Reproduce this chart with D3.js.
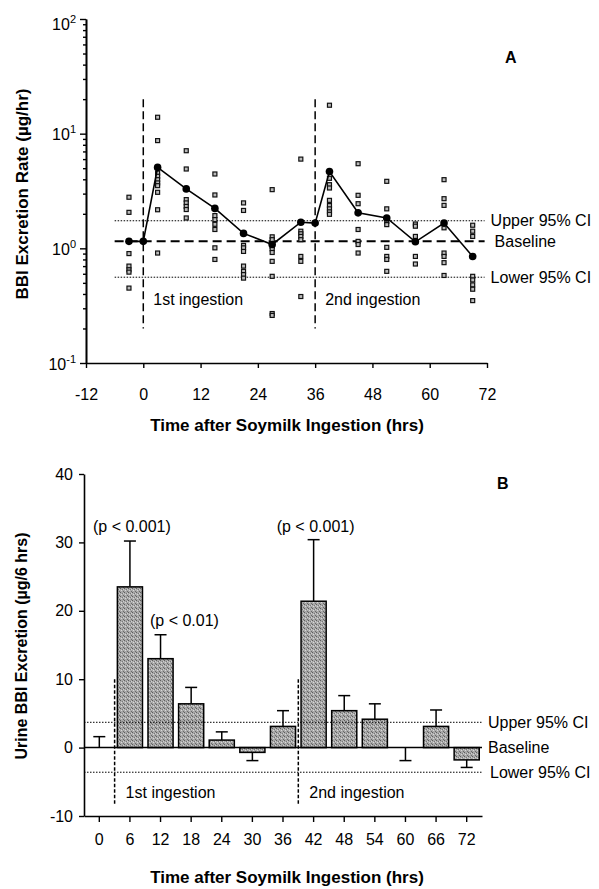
<!DOCTYPE html>
<html>
<head>
<meta charset="utf-8">
<script src="https://cdn.jsdelivr.net/npm/d3@7"></script>
<style>
  body { margin: 0; background: #fff; }
  svg { display: block; font-family: "Liberation Sans", Arial, sans-serif; }
</style>
</head>
<body>
<svg id="chart" width="599" height="889"></svg>
<script>
// ---- panel A: excretion rate, log scale ----
const meanTimes  = [-3, 0, 3, 9, 15, 21, 27, 33, 36, 39, 45, 51, 57, 63, 69];
const meanValues = [1.15, 1.15, 5.08, 3.3, 2.23, 1.35, 1.08, 1.69, 1.66, 4.67, 2.04, 1.84, 1.14, 1.66, 0.85];

const scatterTimes = [-3, 3, 9, 15, 21, 27, 33, 39, 45, 51, 57, 63, 69];
const scatterValues = [
  [2.79, 2.06, 1.15, 0.90, 0.70, 0.65, 0.62, 0.45],
  [13.9, 8.7, 4.54, 4.25, 3.97, 3.72, 3.52, 3.08, 2.17, 0.91],
  [7.1, 4.92, 2.66, 2.49, 2.32, 2.18, 1.84],
  [4.45, 2.92, 1.93, 1.78, 1.62, 1.46, 1.01, 0.80],
  [2.49, 2.14, 1.06, 1.01, 0.94, 0.70, 0.63, 0.59, 0.55],
  [3.25, 1.26, 1.19, 1.04, 0.99, 0.92, 0.77, 0.57, 0.27, 0.26],
  [6.0, 1.41, 1.34, 1.27, 1.19, 0.85, 0.77, 0.38],
  [17.7, 4.08, 3.59, 3.36, 2.62, 2.36, 2.21, 2.08, 1.98],
  [5.47, 2.90, 2.45, 1.46, 1.15, 1.08, 0.91],
  [3.84, 2.21, 1.72, 1.61, 1.02, 0.85, 0.80, 0.63],
  [1.63, 1.56, 1.27, 0.85, 0.73],
  [3.97, 2.71, 2.37, 1.51, 0.91, 0.85, 0.75, 0.58],
  [1.59, 1.41, 1.27, 0.57, 0.53, 0.48, 0.44, 0.35]
];

const aXTicks = [-12, 0, 12, 24, 36, 48, 60, 72];
const aYTicks = [0.1, 1, 10, 100];
const aYTickExp = ['-1', '0', '1', '2'];
const aBaseline = 1.15, aUpper = 1.74, aLower = 0.56;
const aIngestTimes = [0, 36];
const ingestLabels = ['1st ingestion', '2nd ingestion'];

// ---- panel B: urine excretion per 6 hrs ----
const bTimes = [0, 6, 12, 18, 24, 30, 36, 42, 48, 54, 60, 66, 72];
const bMeans = [0, 23.5, 13.0, 6.4, 1.1, -0.7, 3.1, 21.4, 5.4, 4.15, 0, 3.1, -1.8];
const bErrEnd = [1.6, 30.2, 16.5, 8.8, 2.3, -1.9, 5.4, 30.4, 7.6, 6.4, -1.9, 5.5, -2.9];
const bYTicks = [-10, 0, 10, 20, 30, 40];
const bBaseline = 0, bUpper = 3.7, bLower = -3.6;
const bIngestTimes = [3, 39];
const pTimes = [6, 12, 42];
const pValues = [31.5, 17.8, 31.5];
const pTexts = ['(p < 0.001)', '(p < 0.01)', '(p < 0.001)'];

const xTitle = 'Time after Soymilk Ingestion (hrs)';

const svg = d3.select('#chart');

function styleAxis(g, fs) {
  g.attr('font-family', null).attr('font-size', fs);
  g.selectAll('.domain').attr('stroke-width', 1.6);
  g.selectAll('.tick line').attr('stroke-width', 1.4);
  g.selectAll('.tick text').attr('fill', '#000');
}

// plain hyphen for negatives, like the original
let fmt = d => String(d);

// ================= Panel A =================
let xA = d3.scaleLinear().domain([-12, 72]).range([86, 487]);
let yA = d3.scaleLog().domain([0.1, 100]).range([363, 19]);

let gA = svg.append('g');

let minor = [];
for (let d of [0.1, 1, 10]) for (let k = 2; k <= 9; k++) minor.push(d * k);

gA.append('g')
  .attr('transform', `translate(${xA(-12)},0)`)
  .call(d3.axisLeft(yA).tickValues(minor).tickSize(3).tickSizeOuter(0).tickFormat(''))
  .call(g => styleAxis(g, 16));

gA.append('g')
  .attr('transform', `translate(${xA(-12)},0)`)
  .call(d3.axisLeft(yA).tickValues(aYTicks).tickSize(6).tickSizeOuter(0).tickFormat(''))
  .call(g => styleAxis(g, 16));

aYTicks.forEach((v, i) => {
  let off = v === 100 ? 5 : 1;
  let t = gA.append('text')
    .attr('x', xA(-12) - 10)
    .attr('y', yA(v) + off + 5.7)
    .attr('text-anchor', 'end')
    .attr('font-size', 16);
  t.append('tspan').text('10');
  t.append('tspan').attr('font-size', 11).attr('dy', -7).text(aYTickExp[i]);
});

gA.append('g')
  .attr('transform', `translate(0,${yA(0.1)})`)
  .call(d3.axisBottom(xA).tickValues(aXTicks).tickSize(5).tickSizeOuter(0).tickPadding(21).tickFormat(fmt))
  .call(g => styleAxis(g, 16));

// reference lines
let refA = [
  {v: aUpper, dash: '1.5,1.5', w: 1, label: 'Upper 95% CI', dx: 6},
  {v: aBaseline, dash: '9,5', w: 2, label: 'Baseline', dx: 10},
  {v: aLower, dash: '1.5,1.5', w: 1, label: 'Lower 95% CI', dx: 6}
];
refA.forEach(r => {
  gA.append('line')
    .attr('x1', xA(-6)).attr('x2', xA(71.5))
    .attr('y1', yA(r.v)).attr('y2', yA(r.v))
    .attr('stroke', '#000').attr('stroke-width', r.w)
    .attr('stroke-dasharray', r.dash);
  gA.append('text')
    .attr('x', xA(71.5) + r.dx).attr('y', yA(r.v))
    .attr('dy', '0.35em').attr('font-size', 16)
    .text(r.label);
});

aIngestTimes.forEach((t, i) => {
  gA.append('line')
    .attr('x1', xA(t)).attr('x2', xA(t))
    .attr('y1', yA(20)).attr('y2', yA(0.2))
    .attr('stroke', '#000').attr('stroke-width', 1.5)
    .attr('stroke-dasharray', '8,4');
  gA.append('text')
    .attr('x', xA(t) + 10).attr('y', yA(0.36))
    .attr('dy', '0.35em').attr('font-size', 16)
    .text(ingestLabels[i]);
});

// individual points
scatterTimes.forEach((t, i) => {
  gA.append('g').selectAll('rect')
    .data(scatterValues[i])
    .join('rect')
    .attr('x', xA(t) - 2).attr('y', v => yA(v) - 2)
    .attr('width', 4).attr('height', 4)
    .attr('fill', '#bbb').attr('stroke', '#111').attr('stroke-width', 1.2);
});

// mean line
let meanPts = meanTimes.map((t, i) => [t, meanValues[i]]);
gA.append('path')
  .attr('d', d3.line().x(p => xA(p[0])).y(p => yA(p[1]))(meanPts))
  .attr('fill', 'none').attr('stroke', '#000').attr('stroke-width', 1.6);
gA.append('g').selectAll('circle')
  .data(meanPts)
  .join('circle')
  .attr('cx', p => xA(p[0])).attr('cy', p => yA(p[1]))
  .attr('r', 3.8).attr('fill', '#000');

gA.append('text')
  .attr('x', 505).attr('y', 57).attr('dy', '0.35em')
  .attr('font-size', 16).attr('font-weight', 'bold').text('A');

gA.append('text')
  .attr('transform', 'translate(22,194) rotate(-90)')
  .attr('text-anchor', 'middle').attr('dy', '0.35em')
  .attr('font-size', 17).attr('font-weight', 'bold')
  .text('BBI Excretion Rate (µg/hr)');

gA.append('text')
  .attr('x', 287).attr('y', 425).attr('dy', '0.35em')
  .attr('text-anchor', 'middle')
  .attr('font-size', 17).attr('font-weight', 'bold')
  .text(xTitle);

// ================= Panel B =================
let xB = d3.scaleBand().domain(bTimes).range([84, 482]).paddingInner(0.18).paddingOuter(0.09);
let xBt = d3.scaleLinear().domain([-3, 75]).range([84, 482]);
let yB = d3.scaleLinear().domain([-10, 40]).range([816, 474]);

let gB = svg.append('g');

let defs = svg.append('defs');
let pat = defs.append('pattern')
  .attr('id', 'stipple').attr('patternUnits', 'userSpaceOnUse')
  .attr('width', 4).attr('height', 4);
pat.append('rect').attr('width', 4).attr('height', 4).attr('fill', '#a8a8a8');
pat.append('rect').attr('x', 0).attr('y', 0).attr('width', 1).attr('height', 1).attr('fill', '#5e5e5e');
pat.append('rect').attr('x', 2).attr('y', 1).attr('width', 1).attr('height', 1).attr('fill', '#787878');
pat.append('rect').attr('x', 1).attr('y', 2).attr('width', 1).attr('height', 1).attr('fill', '#d8d8d8');
pat.append('rect').attr('x', 3).attr('y', 3).attr('width', 1).attr('height', 1).attr('fill', '#6a6a6a');
pat.append('rect').attr('x', 3).attr('y', 1).attr('width', 1).attr('height', 1).attr('fill', '#cfcfcf');

gB.append('g')
  .attr('transform', `translate(${xB.range()[0]},0)`)
  .call(d3.axisLeft(yB).tickValues(bYTicks).tickSize(5).tickSizeOuter(0).tickPadding(6).tickFormat(fmt))
  .call(g => styleAxis(g, 16));

gB.append('g')
  .attr('transform', `translate(0,${yB(-10)})`)
  .call(d3.axisBottom(xB).tickSize(6).tickSizeOuter(0).tickPadding(12).tickFormat(fmt))
  .call(g => styleAxis(g, 16));

// bars
let bData = bTimes.map((t, i) => ({t, v: bMeans[i], e: bErrEnd[i]}));

gB.append('g').selectAll('line')
  .data(bData)
  .join('line')
  .attr('x1', d => xB(d.t) + xB.bandwidth() / 2)
  .attr('x2', d => xB(d.t) + xB.bandwidth() / 2)
  .attr('y1', d => yB(d.v)).attr('y2', d => yB(d.e))
  .attr('stroke', '#000').attr('stroke-width', 1.5);
gB.append('g').selectAll('line')
  .data(bData)
  .join('line')
  .attr('x1', d => xB(d.t) + xB.bandwidth() / 2 - 6)
  .attr('x2', d => xB(d.t) + xB.bandwidth() / 2 + 6)
  .attr('y1', d => yB(d.e)).attr('y2', d => yB(d.e))
  .attr('stroke', '#000').attr('stroke-width', 1.5);

gB.append('g').selectAll('rect')
  .data(bData.filter(d => d.v !== 0))
  .join('rect')
  .attr('x', d => xB(d.t))
  .attr('y', d => Math.min(yB(d.v), yB(0)))
  .attr('width', xB.bandwidth())
  .attr('height', d => Math.abs(yB(d.v) - yB(0)))
  .attr('fill', 'url(#stipple)')
  .attr('stroke', '#000').attr('stroke-width', 1.5);

let refB = [
  {v: bUpper, dash: '1.5,1.5', w: 1, label: 'Upper 95% CI', dx: 6},
  {v: bBaseline, dash: null, w: 1.5, label: 'Baseline', dx: 6},
  {v: bLower, dash: '1.5,1.5', w: 1, label: 'Lower 95% CI', dx: 8}
];
refB.forEach(r => {
  gB.append('line')
    .attr('x1', xBt(-3)).attr('x2', xBt(75))
    .attr('y1', yB(r.v)).attr('y2', yB(r.v))
    .attr('stroke', '#000').attr('stroke-width', r.w)
    .attr('stroke-dasharray', r.dash);
  gB.append('text')
    .attr('x', xBt(75) + r.dx).attr('y', yB(r.v))
    .attr('dy', '0.35em').attr('font-size', 16)
    .text(r.label);
});

bIngestTimes.forEach((t, i) => {
  gB.append('line')
    .attr('x1', xBt(t)).attr('x2', xBt(t))
    .attr('y1', yB(10)).attr('y2', yB(-8.3))
    .attr('stroke', '#000').attr('stroke-width', 1.5)
    .attr('stroke-dasharray', '3.5,2');
  gB.append('text')
    .attr('x', xBt(t) + 11).attr('y', yB(-6.5))
    .attr('dy', '0.35em').attr('font-size', 16)
    .text(ingestLabels[i]);
});

pTimes.forEach((t, i) => {
  let anchor = i === 1 ? 'start' : 'middle';
  let x = i === 1 ? xB(t) + 2 : xB(t) + xB.bandwidth() / 2 + 2;
  gB.append('text')
    .attr('x', x).attr('y', yB(pValues[i]))
    .attr('text-anchor', anchor).attr('font-size', 16)
    .text(pTexts[i]);
});

gB.append('text')
  .attr('x', 497).attr('y', 483).attr('dy', '0.35em')
  .attr('font-size', 16).attr('font-weight', 'bold').text('B');

gB.append('text')
  .attr('transform', 'translate(21,646) rotate(-90)')
  .attr('text-anchor', 'middle').attr('dy', '0.35em')
  .attr('font-size', 16).attr('font-weight', 'bold')
  .text('Urine BBI Excretion (µg/6 hrs)');

gB.append('text')
  .attr('x', 287).attr('y', 877).attr('dy', '0.35em')
  .attr('text-anchor', 'middle')
  .attr('font-size', 17).attr('font-weight', 'bold')
  .text(xTitle);
</script>
</body>
</html>
